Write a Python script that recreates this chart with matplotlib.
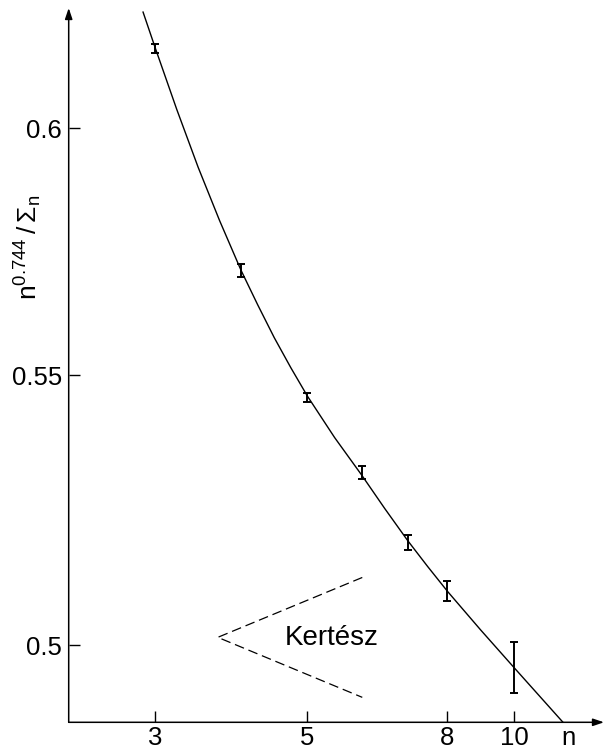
"""n^0.744 / Sigma_n against n, log-log, with the fitted curve and the Kertesz estimate."""

import matplotlib
matplotlib.use("Agg")
import matplotlib.pyplot as plt
from matplotlib.ticker import NullLocator

plt.rcParams["font.family"] = ["Liberation Sans", "DejaVu Sans"]
plt.rcParams["lines.scale_dashes"] = False

# measured points with error bars
n_vals = [3, 4, 5, 6, 7, 8, 10]
ratio_vals = [0.6172, 0.5707, 0.5457, 0.5314, 0.5184, 0.5096, 0.4961]
ratio_err = [0.0010, 0.0013, 0.0009, 0.0012, 0.0014, 0.0018, 0.0044]

# fitted curve
curve_n = [2.879, 3.0, 3.224, 3.464, 3.722, 4.0, 4.230, 4.472, 4.729, 5.0,
           5.477, 6.0, 6.481, 7.0, 7.483, 8.0, 8.944, 10.0, 11.79]
curve_v = [0.6251, 0.6172, 0.6040, 0.5918, 0.5808, 0.5707, 0.5638, 0.5573, 0.5514, 0.5459,
           0.5380, 0.5309, 0.5247, 0.5188, 0.5141, 0.5096, 0.5027, 0.4961, 0.4866]

# Kertesz wedge (dashed)
kert_n = [6.01, 3.70, 6.01]
kert_v = [0.5121, 0.5014, 0.4909]

x_ticks = [3, 5, 8, 10, 12]
x_labels = ["3", "5", "8", "10", "n"]
y_ticks = [0.5, 0.55, 0.6]
y_labels = ["0.5", "0.55", "0.6"]

W, H = 605, 753
fig = plt.figure(figsize=(W / 100, H / 100), dpi=100)
ax = fig.add_axes([68.7 / W, (H - 722.3) / H, (604 - 68.7) / W, (722.3 - 8) / H])
ax.set_xscale("log")
ax.set_yscale("log")
ax.set_xlim(2.243, 13.53)
ax.set_ylim(0.4866, 0.6260)

ax.plot(curve_n, curve_v, color="k", lw=1.0)
ax.errorbar(n_vals, ratio_vals, yerr=ratio_err, fmt="none", ecolor="k",
            elinewidth=1.4, capsize=3.2, capthick=1.4)
ax.plot(kert_n, kert_v, color="k", lw=0.9, linestyle=(0, (7, 3.5)))
ax.text(4.637, 0.5, "Kertész", fontsize=20, ha="left", va="baseline")

for s in ax.spines.values():
    s.set_visible(False)
arrow = dict(arrowstyle="-|>,head_length=0.65,head_width=0.22", color="k",
             lw=1.1, mutation_scale=10, shrinkA=0, shrinkB=0)
ax.annotate("", xy=(1, 0), xytext=(0, 0), xycoords="axes fraction", arrowprops=arrow)
ax.annotate("", xy=(0, 1), xytext=(0, 0), xycoords="axes fraction", arrowprops=arrow)

ax.set_xticks(x_ticks, labels=x_labels)
ax.set_yticks(y_ticks, labels=y_labels)
ax.xaxis.set_minor_locator(NullLocator())
ax.yaxis.set_minor_locator(NullLocator())
ax.tick_params(axis="both", direction="in", length=8, width=1.0, labelsize=18.5)
ax.tick_params(axis="x", pad=2.5)
ax.tick_params(axis="y", pad=5)
ax.xaxis.get_major_ticks()[-1].tick1line.set_visible(False)

fig.text(28 / W, 1 - 247 / H, r"$\mathregular{n^{0.744}\,/\,\Sigma_n}$",
         rotation=90, ha="center", va="center", fontsize=19)

fig.savefig("out.png", dpi=100)
